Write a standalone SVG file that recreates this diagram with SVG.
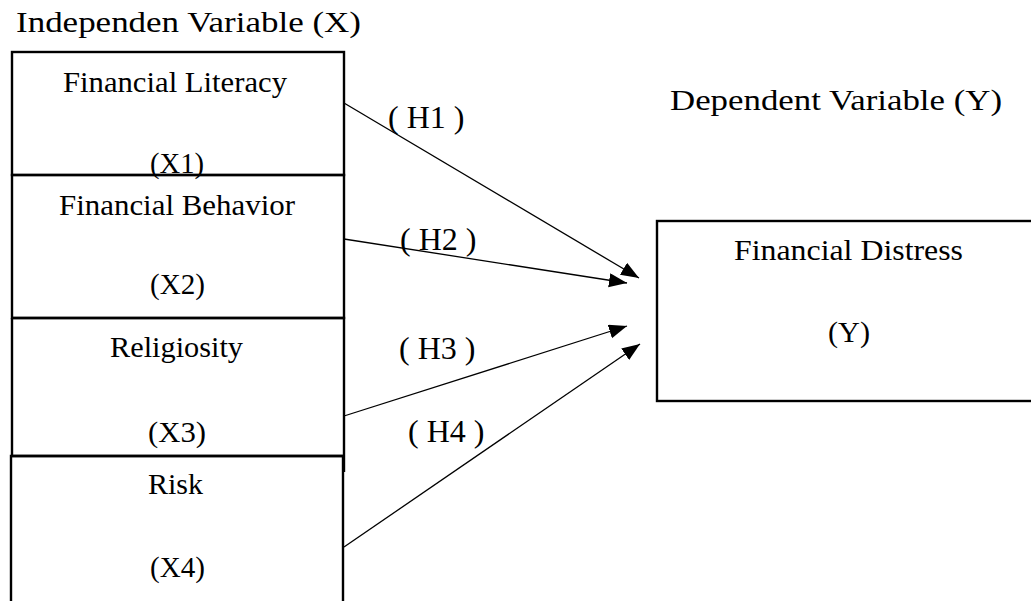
<svg xmlns="http://www.w3.org/2000/svg" width="1031" height="601" viewBox="0 0 1031 601">
<style>
.box{fill:none;stroke:#000;stroke-width:2.4}
.t{font-family:"Liberation Serif","Times New Roman",serif;font-size:29px;fill:#000}
.h{font-family:"Liberation Serif","Times New Roman",serif;font-size:32px;fill:#000}
.conn{stroke:#000;stroke-width:1.3;fill:none}
</style>
<defs>
<marker id="arr" markerUnits="userSpaceOnUse" markerWidth="20" markerHeight="16" refX="18" refY="7" orient="auto">
<path d="M0,0 L18,7 L0,14 z" fill="#000"/>
</marker>
</defs>
<rect width="1031" height="601" fill="#fff"/>
<text class="t" x="16" y="32" textLength="345" lengthAdjust="spacingAndGlyphs">Independen Variable (X)</text>
<text class="t" x="670" y="110" textLength="332" lengthAdjust="spacingAndGlyphs">Dependent Variable (Y)</text>
<g id="x1">
<rect class="box" x="12" y="52" width="332" height="123"/>
<text class="t" x="63" y="92" textLength="224" lengthAdjust="spacingAndGlyphs">Financial Literacy</text>
<text class="t" x="150" y="173" textLength="54" lengthAdjust="spacingAndGlyphs">(X1)</text>
</g>
<g id="x2">
<rect class="box" x="12" y="175" width="332" height="143"/>
<text class="t" x="59" y="215" textLength="236" lengthAdjust="spacingAndGlyphs">Financial Behavior</text>
<text class="t" x="150" y="294" textLength="55" lengthAdjust="spacingAndGlyphs">(X2)</text>
</g>
<g id="x3">
<path class="box" d="M12,318 H344 V472 M344,456 H12 V318"/>
<text class="t" x="110" y="357" textLength="133" lengthAdjust="spacingAndGlyphs">Religiosity</text>
<text class="t" x="148" y="442" textLength="58" lengthAdjust="spacingAndGlyphs">(X3)</text>
</g>
<g id="x4">
<path class="box" d="M11,602 V456 H343 V602"/>
<text class="t" x="148" y="494" textLength="55" lengthAdjust="spacingAndGlyphs">Risk</text>
<text class="t" x="150" y="577" textLength="55" lengthAdjust="spacingAndGlyphs">(X4)</text>
</g>
<g id="y">
<rect class="box" x="657" y="221" width="420" height="180"/>
<text class="t" x="734" y="260" textLength="229" lengthAdjust="spacingAndGlyphs">Financial Distress</text>
<text class="t" x="828" y="342" textLength="42" lengthAdjust="spacingAndGlyphs">(Y)</text>
</g>
<g id="connectors">
<line class="conn" x1="344" y1="103" x2="639" y2="278" marker-end="url(#arr)"/>
<line class="conn" x1="344" y1="239" x2="627" y2="283" marker-end="url(#arr)"/>
<line class="conn" x1="344" y1="416" x2="627" y2="326" marker-end="url(#arr)"/>
<line class="conn" x1="344" y1="547" x2="640" y2="344" marker-end="url(#arr)"/>
<text class="h" x="388" y="128">( H1 )</text>
<text class="h" x="400" y="250">( H2 )</text>
<text class="h" x="399" y="359">( H3 )</text>
<text class="h" x="408" y="442">( H4 )</text>
</g>
</svg>
